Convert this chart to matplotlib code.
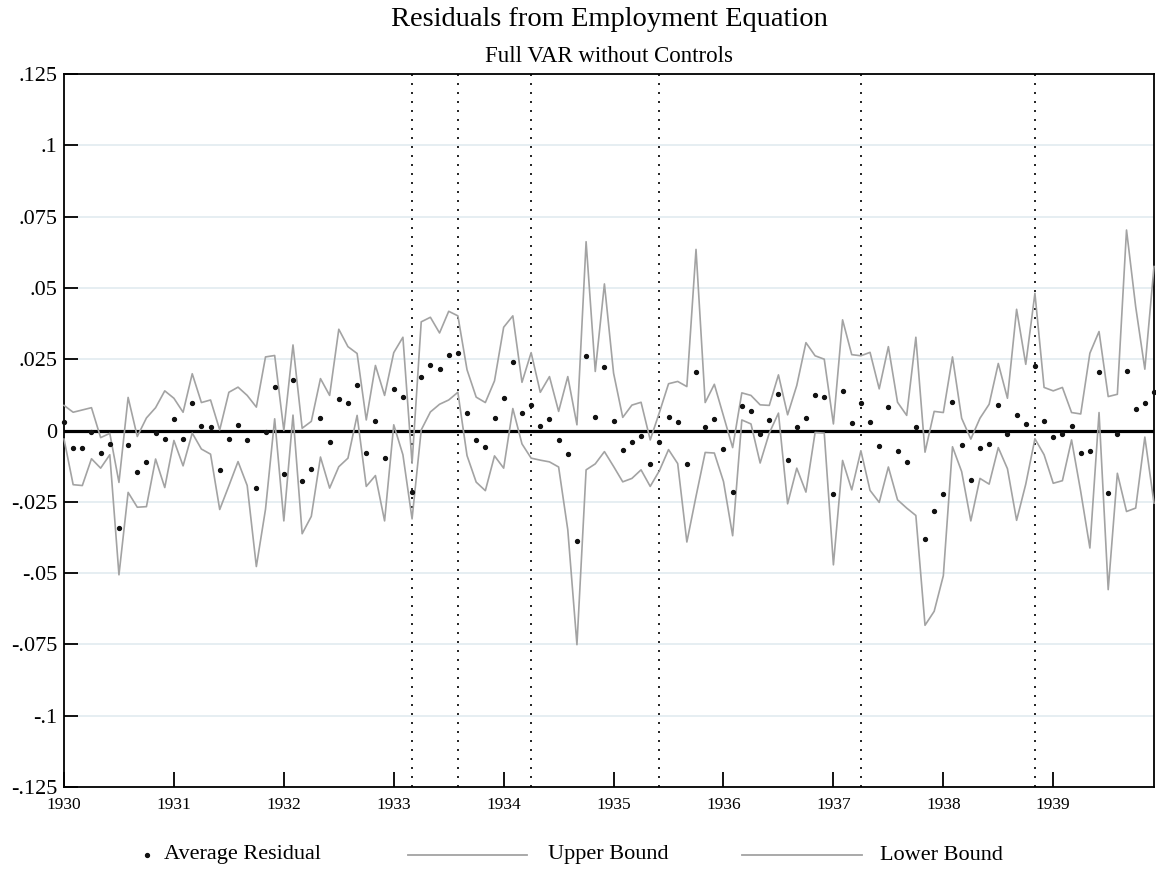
import numpy as np
import matplotlib
matplotlib.use("Agg")
import matplotlib.pyplot as plt
from matplotlib.lines import Line2D

plt.rcParams['font.family'] = ['Liberation Serif', 'DejaVu Serif']

title = "Residuals from Employment Equation"
subtitle = "Full VAR without Controls"
start_year = 1930
n_months = 120

average_residual = [
    0.0030, -0.0063, -0.0060, -0.0007, -0.0078, -0.0048, -0.0341, -0.0050, -0.0146, -0.0111, -0.0009, -0.0030,
    0.0041, -0.0030, 0.0095, 0.0015, 0.0013, -0.0137, -0.0029, 0.0020, -0.0035, -0.0201, -0.0007, 0.0152,
    -0.0154, 0.0176, -0.0178, -0.0136, 0.0044, -0.0042, 0.0112, 0.0098, 0.0161, -0.0078, 0.0034, -0.0097,
    0.0147, 0.0119, -0.0216, 0.0189, 0.0231, 0.0216, 0.0263, 0.0270, 0.0062, -0.0034, -0.0057, 0.0043,
    0.0114, 0.0241, 0.0063, 0.0090, 0.0015, 0.0041, -0.0032, -0.0082, -0.0386, 0.0262, 0.0048, 0.0222,
    0.0035, -0.0068, -0.0040, -0.0019, -0.0116, -0.0039, 0.0048, 0.0029, -0.0118, 0.0204, 0.0011, 0.0041,
    -0.0065, -0.0214, 0.0085, 0.0070, -0.0012, 0.0036, 0.0128, -0.0102, 0.0013, 0.0044, 0.0126, 0.0119,
    -0.0222, 0.0140, 0.0028, 0.0096, 0.0030, -0.0055, 0.0083, -0.0071, -0.0112, 0.0013, -0.0380, -0.0284,
    -0.0222, 0.0100, -0.0050, -0.0175, -0.0063, -0.0048, 0.0088, -0.0011, 0.0054, 0.0022, 0.0227, 0.0033,
    -0.0023, -0.0012, 0.0015, -0.0078, -0.0071, 0.0204, -0.0220, -0.0011, 0.0209, 0.0075, 0.0095, 0.0134,
]

upper_bound = [
    0.0088, 0.0064, 0.0072, 0.0080, -0.0025, -0.0010, -0.0182, 0.0116, -0.0021, 0.0044, 0.0080, 0.0139,
    0.0113, 0.0064, 0.0199, 0.0098, 0.0107, 0.0002, 0.0134, 0.0152, 0.0123, 0.0082, 0.0258, 0.0263,
    0.0000, 0.0300, 0.0008, 0.0032, 0.0182, 0.0123, 0.0355, 0.0294, 0.0270, 0.0037, 0.0228, 0.0123,
    0.0273, 0.0327, -0.0115, 0.0381, 0.0397, 0.0342, 0.0418, 0.0402, 0.0213, 0.0117, 0.0098, 0.0174,
    0.0362, 0.0402, 0.0169, 0.0273, 0.0134, 0.0189, 0.0067, 0.0189, 0.0020, 0.0662, 0.0207, 0.0514,
    0.0201, 0.0046, 0.0089, 0.0099, -0.0033, 0.0063, 0.0164, 0.0172, 0.0154, 0.0635, 0.0098, 0.0162,
    0.0051, -0.0060, 0.0132, 0.0123, 0.0090, 0.0088, 0.0195, 0.0055, 0.0158, 0.0308, 0.0262, 0.0250,
    0.0023, 0.0388, 0.0266, 0.0262, 0.0274, 0.0146, 0.0294, 0.0099, 0.0053, 0.0327, -0.0076, 0.0067,
    0.0063, 0.0258, 0.0043, -0.0030, 0.0043, 0.0092, 0.0235, 0.0113, 0.0425, 0.0232, 0.0481, 0.0151,
    0.0139, 0.0151, 0.0063, 0.0058, 0.0271, 0.0347, 0.0119, 0.0127, 0.0703, 0.0434, 0.0215, 0.0575,
]

lower_bound = [
    -0.0030, -0.0190, -0.0193, -0.0099, -0.0132, -0.0085, -0.0506, -0.0217, -0.0269, -0.0267, -0.0100, -0.0200,
    -0.0035, -0.0124, -0.0009, -0.0065, -0.0083, -0.0277, -0.0194, -0.0109, -0.0193, -0.0477, -0.0276, 0.0041,
    -0.0317, 0.0054, -0.0362, -0.0301, -0.0093, -0.0202, -0.0127, -0.0097, 0.0053, -0.0196, -0.0158, -0.0317,
    0.0020, -0.0085, -0.0310, 0.0002, 0.0065, 0.0092, 0.0107, 0.0134, -0.0088, -0.0181, -0.0211, -0.0089,
    -0.0132, 0.0077, -0.0047, -0.0097, -0.0104, -0.0110, -0.0128, -0.0348, -0.0751, -0.0138, -0.0117, -0.0074,
    -0.0126, -0.0180, -0.0168, -0.0138, -0.0196, -0.0141, -0.0067, -0.0116, -0.0391, -0.0231, -0.0077, -0.0079,
    -0.0179, -0.0369, 0.0037, 0.0023, -0.0114, -0.0009, 0.0061, -0.0257, -0.0132, -0.0216, -0.0007, -0.0009,
    -0.0471, -0.0105, -0.0208, -0.0071, -0.0210, -0.0252, -0.0128, -0.0243, -0.0272, -0.0298, -0.0683, -0.0634,
    -0.0509, -0.0057, -0.0144, -0.0317, -0.0168, -0.0188, -0.0060, -0.0134, -0.0315, -0.0188, -0.0029, -0.0085,
    -0.0185, -0.0176, -0.0033, -0.0214, -0.0412, 0.0063, -0.0558, -0.0150, -0.0284, -0.0272, -0.0023, -0.0255,
]

# months (year, month) marked by vertical dotted lines
event_months = [(1933, 3), (1933, 8), (1934, 4), (1935, 6), (1937, 4), (1938, 11)]

y_ticks = [0.125, 0.1, 0.075, 0.05, 0.025, 0.0, -0.025, -0.05, -0.075, -0.1, -0.125]
y_tick_labels = [".125", ".1", ".075", ".05", ".025", "0", "-.025", "-.05", "-.075", "-.1", "-.125"]
x_ticks = list(range(1930, 1940))
x_tick_labels = [str(y) for y in x_ticks]

legend_labels = ["Average Residual", "Upper Bound", "Lower Bound"]

dates = start_year + np.arange(n_months) / 12.0
event_dates = [y + (m - 1) / 12.0 for (y, m) in event_months]

W, H = 1156, 869
ax_left, ax_right, ax_top, ax_bottom = 64, 1154, 74, 787
fig = plt.figure(figsize=(W / 100, H / 100), dpi=100)
ax = fig.add_axes([ax_left / W, (H - ax_bottom) / H, (ax_right - ax_left) / W, (ax_bottom - ax_top) / H])

band_color = "#a3a3a3"
for yt in y_ticks:
    if yt != 0:
        ax.axhline(yt, color="#e4edf1", lw=1.3, zorder=0)
ax.axhline(0, color="black", lw=2.3, zorder=3)

for d in event_dates:
    ax.axvline(d, color="black", lw=1.2, linestyle=(0, (1.2, 4.2)), zorder=2)

ax.plot(dates, upper_bound, color=band_color, lw=1.2, zorder=4, clip_on=False)
ax.plot(dates, lower_bound, color=band_color, lw=1.2, zorder=4, clip_on=False)
ax.plot(dates, average_residual, linestyle="none", marker="o", markersize=2.8,
        color="#111111", zorder=5, clip_on=False)

ax.set_xlim(start_year, dates[-1])
ax.set_ylim(-0.125, 0.125)
ax.set_yticks(y_ticks)
ax.set_yticklabels(y_tick_labels, fontsize=16)
ax.set_xticks(x_ticks)
ax.set_xticklabels(x_tick_labels, fontsize=12.5)
ax.tick_params(axis="y", direction="in", length=10, width=1.3, pad=5)
ax.tick_params(axis="x", direction="in", length=11, width=1.3, pad=7)
for s in ax.spines.values():
    s.set_linewidth(1.3)
    s.set_color("black")

cx = (ax_left + ax_right) / 2 / W
fig.text(cx, 1 - 19 / H, title, ha="center", va="center", fontsize=20.5)
fig.text(cx, 1 - 56 / H, subtitle, ha="center", va="center", fontsize=16.5)

# legend drawn in figure coordinates
ly = 1 - 855 / H
fig.add_artist(Line2D([147 / W], [ly], marker="o", markersize=2.8, color="#111111",
                      linestyle="none", transform=fig.transFigure))
fig.text(164 / W, ly, legend_labels[0], ha="left", va="center", fontsize=16)
fig.add_artist(Line2D([408 / W, 527 / W], [ly, ly], color=band_color, lw=1.3,
                      transform=fig.transFigure))
fig.text(548 / W, ly, legend_labels[1], ha="left", va="center", fontsize=16)
fig.add_artist(Line2D([742 / W, 862 / W], [ly, ly], color=band_color, lw=1.3,
                      transform=fig.transFigure))
fig.text(880 / W, ly, legend_labels[2], ha="left", va="center", fontsize=16)

fig.savefig("out.png", dpi=100)
